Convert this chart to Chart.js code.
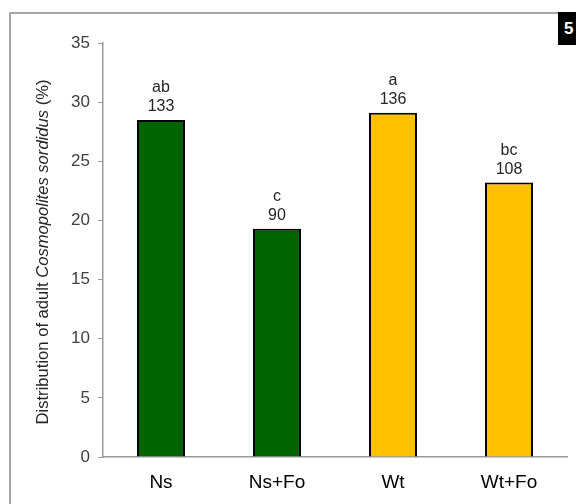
<!DOCTYPE html>
<html>
<head>
    <title>Cosmopolites sordidus distribution</title>
    <script src="https://cdn.jsdelivr.net/npm/chart.js"></script>
    <style>
        body {
            margin: 0;
            background: white;
            font-family: Arial, "Liberation Sans", sans-serif;
        }
        .wrap {
            position: relative;
            width: 576px;
            height: 504px;
            overflow: hidden;
        }
        .frame {
            position: absolute;
            left: 9px;
            top: 12px;
            width: 600px;
            height: 600px;
            border-left: 2px solid #a6a6a6;
            border-top: 2px solid #a6a6a6;
        }
        .tag {
            position: absolute;
            left: 558px;
            top: 12px;
            width: 22px;
            height: 33px;
            background: black;
            color: white;
            font-weight: bold;
            font-size: 17px;
            line-height: 33px;
            padding-left: 6px;
        }
        canvas {
            position: absolute;
            left: 0;
            top: 0;
        }
    </style>
</head>
<body>
    <div class="wrap">
        <div class="frame"></div>
        <div class="tag">5</div>
        <canvas id="chart" width="576" height="504"></canvas>
    </div>

    <script>
        const categories = ['Ns', 'Ns+Fo', 'Wt', 'Wt+Fo'];
        const values = [28.5, 19.3, 29.1, 23.2];
        const letters = ['ab', 'c', 'a', 'bc'];
        const counts = ['133', '90', '136', '108'];
        const barColors = ['#006400', '#006400', '#FFC000', '#FFC000'];

        // letters + counts written above each bar
        const topLabels = {
            id: 'topLabels',
            afterDatasetsDraw(chart) {
                const ctx = chart.ctx;
                const meta = chart.getDatasetMeta(0);
                ctx.save();
                ctx.font = '16px Arial, "Liberation Sans"';
                ctx.fillStyle = '#262626';
                ctx.textAlign = 'center';
                ctx.textBaseline = 'alphabetic';
                meta.data.forEach((bar, i) => {
                    ctx.fillText(counts[i], bar.x, bar.y - 9);
                    ctx.fillText(letters[i], bar.x, bar.y - 28);
                });
                ctx.restore();
            }
        };

        // y title with the species name in italics
        const yTitle = {
            id: 'yTitle',
            afterDraw(chart) {
                const ctx = chart.ctx;
                const area = chart.chartArea;
                const parts = [
                    ['Distribution of adult ', ''],
                    ['Cosmopolites sordidus', 'italic '],
                    [' (%)', '']
                ];
                const size = '16.6px Arial, "Liberation Sans"';
                ctx.save();
                ctx.translate(48, (area.top + area.bottom) / 2 + 2);
                ctx.rotate(-Math.PI / 2);
                ctx.fillStyle = '#262626';
                ctx.textBaseline = 'alphabetic';
                let total = 0;
                parts.forEach(p => {
                    ctx.font = p[1] + size;
                    total += ctx.measureText(p[0]).width;
                });
                let x = -total / 2;
                parts.forEach(p => {
                    ctx.font = p[1] + size;
                    ctx.fillText(p[0], x, 0);
                    x += ctx.measureText(p[0]).width;
                });
                ctx.restore();
            }
        };

        new Chart(document.getElementById('chart'), {
            type: 'bar',
            data: {
                labels: categories,
                datasets: [{
                    data: values,
                    backgroundColor: barColors,
                    borderColor: '#000000',
                    borderWidth: 2,
                    categoryPercentage: 1.0,
                    barPercentage: 0.414
                }]
            },
            options: {
                responsive: false,
                animation: false,
                layout: {
                    padding: { top: 43, right: 9, left: 0, bottom: 0 }
                },
                plugins: {
                    legend: { display: false },
                    tooltip: { enabled: false }
                },
                scales: {
                    x: {
                        afterFit(scale) { scale.height = 47; },
                        grid: { display: false },
                        border: { color: '#9a9a9a', width: 1.5 },
                        ticks: {
                            color: '#000000',
                            font: { size: 19, family: 'Arial, "Liberation Sans"' },
                            padding: 6
                        }
                    },
                    y: {
                        min: 0,
                        max: 35,
                        afterFit(scale) { scale.width = 103; },
                        grid: {
                            drawOnChartArea: false,
                            drawTicks: true,
                            tickLength: 5,
                            color: '#9a9a9a'
                        },
                        border: { color: '#9a9a9a', width: 1.5 },
                        ticks: {
                            stepSize: 5,
                            color: '#404040',
                            font: { size: 17, family: 'Arial, "Liberation Sans"' },
                            padding: 8
                        }
                    }
                }
            },
            plugins: [topLabels, yTitle]
        });
    </script>
</body>
</html>
